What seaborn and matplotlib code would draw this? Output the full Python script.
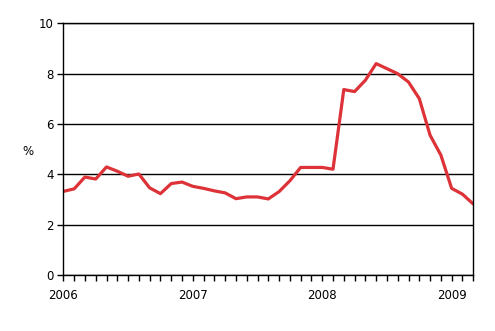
import matplotlib
matplotlib.use("Agg")
import matplotlib.pyplot as plt
import seaborn as sns
import pandas as pd
import numpy as np

months = list(range(39))  # Jan 2006 .. Mar 2009
values = [3.33, 3.43, 3.90, 3.82, 4.30, 4.13, 3.93, 4.02, 3.47, 3.24,
          3.64, 3.70, 3.53, 3.45, 3.35, 3.27, 3.04, 3.11, 3.11, 3.03,
          3.32, 3.75, 4.28, 4.28, 4.28, 4.21, 7.37, 7.29, 7.74, 8.40,
          8.20, 8.00, 7.67, 7.01, 5.56, 4.77, 3.45, 3.22, 2.83]
year_labels = ["2006", "2007", "2008", "2009"]
y_ticks = [0, 2, 4, 6, 8, 10]

df = pd.DataFrame({"month": months, "value": values})

sns.set_style("white", {"xtick.bottom": True, "ytick.left": True,
                        "text.color": "black", "xtick.color": "black",
                        "ytick.color": "black", "axes.labelcolor": "black"})
plt.rcParams['font.family'] = ['DejaVu Sans']

fig = plt.figure(figsize=(4.95, 3.31), dpi=100)
ax = fig.add_axes([0.128, 0.1683, 0.956 - 0.128, 0.9296 - 0.1683])

sns.lineplot(data=df, x="month", y="value", ax=ax, color="#dc3238", linewidth=2.3)

ax.set_xlim(0, 38)
ax.set_ylim(0, 10)
ax.set_yticks(y_ticks)
ax.set_yticklabels([str(t) for t in y_ticks], fontsize=8.5)
ax.yaxis.grid(True, color="black", linewidth=1.0)
ax.set_axisbelow(True)

ax.set_xticks(months, minor=True)
ax.set_xticks([0, 12, 24, 36])
ax.set_xticklabels(year_labels, fontsize=8.5)
ax.tick_params(axis="x", which="both", bottom=True, direction="out", length=4, width=1,
               color="black", labelcolor="black", pad=6)
ax.tick_params(axis="y", left=True, direction="out", length=4, width=1,
               color="black", labelcolor="black", pad=3)

for s in ax.spines.values():
    s.set_visible(True)
    s.set_color("black")
    s.set_linewidth(1.0)

ax.set_xlabel("")
ax.set_ylabel("%", rotation=0, fontsize=8.5, color="black", va="center", ha="center")
ax.yaxis.set_label_coords(-0.086, 0.493)

fig.savefig("out.png", dpi=100)
